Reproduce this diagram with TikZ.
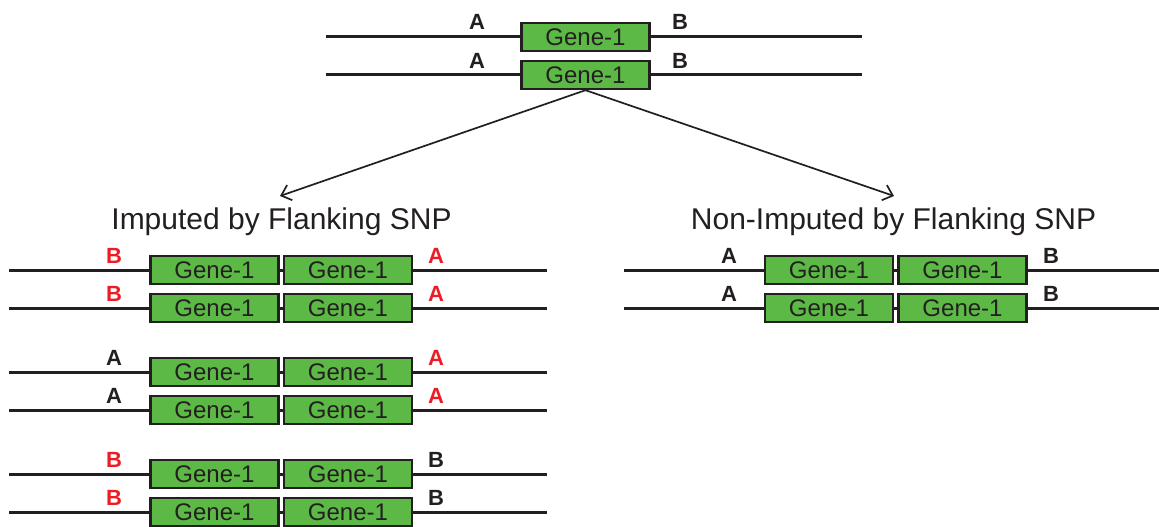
\documentclass[tikz,border=0pt]{standalone}
\usepackage{fontspec}
\setmainfont{Liberation Sans}
\usetikzlibrary{arrows.meta}
\definecolor{genegreen}{HTML}{5DB946}
\definecolor{ink}{HTML}{231F20}
\definecolor{snpred}{HTML}{ED1C24}
\tikzset{
  gene/.style={draw=ink, line width=2.4pt, fill=genegreen, minimum width=128pt, minimum height=28pt, inner sep=0pt,
    font=\fontsize{24}{24}\selectfont, text=ink},
  chrom/.style={draw=ink, line width=3pt},
  snp/.style={font=\fontsize{22}{22}\selectfont\bfseries, anchor=base, text=ink, inner sep=0pt},
  snpr/.style={snp, text=snpred},
  title/.style={font=\fontsize{30}{30}\selectfont, anchor=base, text=ink, inner sep=0pt},
  arr/.style={draw=ink, line width=1.7pt, -{Straight Barb[length=9pt,width=16pt,line width=1.7pt]}}
}
\begin{document}
\begin{tikzpicture}[x=1pt,y=-1pt]
\useasboundingbox (0,0) rectangle (1159,527);
% ---- top pair
\foreach \n/\yy in {t1/37, t2/75}{
  \coordinate (\n L) at (326,\yy);
  \coordinate (\n R) at (862,\yy);
  \node[gene] (\n g) at (585.5,\yy) {Gene-1};
  \draw[chrom] (\n L) -- (\n g.west);
  \draw[chrom] (\n g.east) -- (\n R);
  \node[snp] (\n a) at (477,\yy-7) {A};
  \node[snp] (\n b) at (680,\yy-7) {B};
}
% ---- arrows and titles
\coordinate (tipL) at (280,196);
\coordinate (tipR) at (894,196);
\draw[arr] (t2g.south) -- (tipL);
\draw[arr] (t2g.south) -- (tipR);
\node[title] (ttlL) at (281.5,229) {Imputed by Flanking SNP};
\node[title] (ttlR) at (893.5,229) {Non-Imputed by Flanking SNP};
% ---- left group
\foreach \n/\yy/\ls/\lt/\rs/\rt in {l1/270/snpr/B/snpr/A, l2/308/snpr/B/snpr/A, l3/372/snp/A/snpr/A, l4/410/snp/A/snpr/A, l5/474/snpr/B/snp/B, l6/512/snpr/B/snp/B}{
  \coordinate (\n L) at (9,\yy);
  \coordinate (\n R) at (547,\yy);
  \node[gene] (\n g1) at (214.5,\yy) {Gene-1};
  \node[gene] (\n g2) at (348,\yy) {Gene-1};
  \draw[chrom] (\n L) -- (\n g1.west);
  \draw[chrom] (\n g1.east) -- (\n g2.west);
  \draw[chrom] (\n g2.east) -- (\n R);
  \node[\ls] (\n a) at (114,\yy-6.5) {\lt};
  \node[\rs] (\n b) at (436,\yy-6.5) {\rt};
}
% ---- right group
\foreach \n/\yy in {r1/270, r2/308}{
  \coordinate (\n L) at (624,\yy);
  \coordinate (\n R) at (1159,\yy);
  \node[gene] (\n g1) at (829,\yy) {Gene-1};
  \node[gene] (\n g2) at (962.5,\yy) {Gene-1};
  \draw[chrom] (\n L) -- (\n g1.west);
  \draw[chrom] (\n g1.east) -- (\n g2.west);
  \draw[chrom] (\n g2.east) -- (\n R);
  \node[snp] (\n a) at (729,\yy-6.5) {A};
  \node[snp] (\n b) at (1051,\yy-6.5) {B};
}
\end{tikzpicture}
\end{document}
